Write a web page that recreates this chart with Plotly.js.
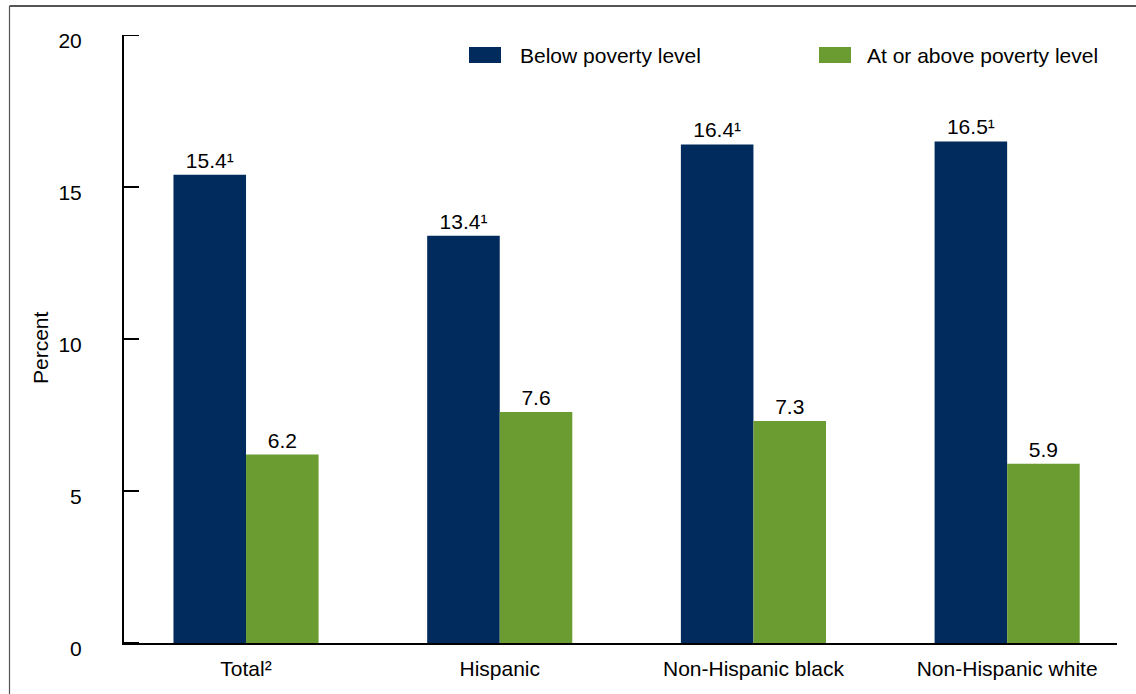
<!DOCTYPE html>
<html>
<head>
<meta charset="utf-8">
<script src="https://cdn.plot.ly/plotly-3.0.1.min.js"></script>
<style>
html,body{margin:0;padding:0;background:#fff;}
#chart{width:1136px;height:694px;}
</style>
</head>
<body>
<div id="chart"></div>
<script>
// Data
var categories = ["Total", "Hispanic", "Non-Hispanic black", "Non-Hispanic white"];
var categoryNotes = ["\u00B2", "", "", ""];
var seriesNames = ["Below poverty level", "At or above poverty level"];
var belowPoverty = [15.4, 13.4, 16.4, 16.5];
var belowNotes = ["\u00B9", "\u00B9", "\u00B9", "\u00B9"];
var abovePoverty = [6.2, 7.6, 7.3, 5.9];
var aboveNotes = ["", "", "", ""];
var yTickValues = [0, 5, 10, 15, 20];

var colors = ["#002b5c", "#6b9c31"];
var fontFamily = "'Liberation Sans', Arial, Helvetica, sans-serif";
var FS = 21;

var catLabels = categories.map(function (c, i) { return c + categoryNotes[i]; });
function labels(vals, notes) {
  return vals.map(function (v, i) { return v.toFixed(1) + notes[i]; });
}

var xIdx = categories.map(function (c, i) { return i; });

var traces = [
  {
    type: "bar", name: seriesNames[0], x: xIdx, y: belowPoverty,
    text: labels(belowPoverty, belowNotes), textposition: "outside",
    textfont: {size: FS, color: "#000", family: fontFamily},
    constraintext: "none", cliponaxis: false,
    marker: {color: colors[0]}, hoverinfo: "y"
  },
  {
    type: "bar", name: seriesNames[1], x: xIdx, y: abovePoverty,
    text: labels(abovePoverty, aboveNotes), textposition: "outside",
    textfont: {size: FS, color: "#000", family: fontFamily},
    constraintext: "none", cliponaxis: false,
    marker: {color: colors[1]}, hoverinfo: "y"
  }
];

// plot area: x 124..1117, y 35..643
var L = 124, R = 1117, T = 35, B = 643, W = 1136, H = 694;
function px(x) { return (x - L) / (R - L); }
function py(y) { return (B - y) / (B - T); }

var shapes = [
  // frame (top and left)
  {type: "line", xref: "paper", yref: "paper", x0: px(9.5), x1: px(1140), y0: py(6), y1: py(6), line: {color: "#555", width: 2}},
  {type: "line", xref: "paper", yref: "paper", x0: px(9.5), x1: px(9.5), y0: py(6), y1: py(700), line: {color: "#555", width: 1.2}},
  // legend swatches
  {type: "rect", xref: "paper", yref: "paper", x0: px(469), x1: px(501), y0: py(47), y1: py(63), fillcolor: colors[0], line: {width: 0}},
  {type: "rect", xref: "paper", yref: "paper", x0: px(819), x1: px(851), y0: py(47), y1: py(63), fillcolor: colors[1], line: {width: 0}}
];
// inward-pointing y tick marks, placed on the y scale
yTickValues.forEach(function (v) {
  shapes.push({
    type: "line", xref: "paper", yref: "y", xsizemode: "pixel", xanchor: 0,
    x0: 0, x1: 15, y0: v, y1: v, line: {color: "#000", width: 2}
  });
});

var annotations = [
  {xref: "paper", yref: "paper", x: px(518), y: py(55), xanchor: "left", yanchor: "middle", text: seriesNames[0], showarrow: false, font: {size: FS, color: "#000", family: fontFamily}},
  {xref: "paper", yref: "paper", x: px(865), y: py(55), xanchor: "left", yanchor: "middle", text: seriesNames[1], showarrow: false, font: {size: FS, color: "#000", family: fontFamily}},
  {xref: "paper", yref: "paper", x: px(40), y: py(348), xanchor: "center", yanchor: "middle", text: "Percent", textangle: -90, showarrow: false, font: {size: FS, color: "#000", family: fontFamily}}
];

var layout = {
  width: W, height: H,
  margin: {l: L, r: W - R, t: T, b: H - B, pad: 0},
  paper_bgcolor: "#fff", plot_bgcolor: "#fff",
  font: {family: fontFamily, size: FS, color: "#000"},
  showlegend: false,
  barmode: "group",
  bargap: 0.428,
  bargroupgap: 0,
  xaxis: {
    range: [-0.481, 3.433],
    tickmode: "array", tickvals: xIdx, ticktext: catLabels,
    showline: true, linecolor: "#000", linewidth: 2,
    ticks: "", showgrid: false, zeroline: false,
    ticklabelstandoff: 6,
    tickfont: {size: FS, color: "#000", family: fontFamily},
    fixedrange: true
  },
  yaxis: {
    range: [0, 20],
    tickmode: "array", tickvals: yTickValues, ticktext: yTickValues.map(String),
    showline: true, linecolor: "#000", linewidth: 2,
    ticks: "",
    ticklabelstandoff: 36,
    ticklabelshift: 6,
    showgrid: false, zeroline: false,
    tickfont: {size: FS, color: "#000", family: fontFamily},
    fixedrange: true
  },
  shapes: shapes,
  annotations: annotations
};

Plotly.newPlot("chart", traces, layout, {displayModeBar: false, staticPlot: true});
</script>
</body>
</html>
